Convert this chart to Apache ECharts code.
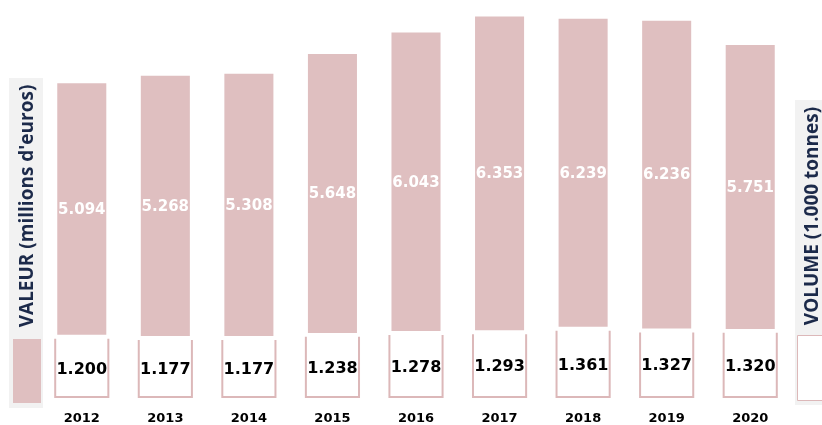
<!DOCTYPE html>
<html><head><meta charset="utf-8">
<script src="https://cdn.jsdelivr.net/npm/echarts@6/dist/echarts.min.js"></script>
<style>html,body{margin:0;padding:0;background:#fff}#c{width:822px;height:425px}</style>
</head><body><div id="c"></div>
<script>
var years = ['2012','2013','2014','2015','2016','2017','2018','2019','2020'];
var valeur = [5094, 5268, 5308, 5648, 6043, 6353, 6239, 6236, 5751];
var volume = [1200, 1177, 1177, 1238, 1278, 1293, 1361, 1327, 1320];
var valeurLabels = ['5.094','5.268','5.308','5.648','6.043','6.353','6.239','6.236','5.751'];
var volumeLabels = ['1.200','1.177','1.177','1.238','1.278','1.293','1.361','1.327','1.320'];
var gapUnits = 80;

var PINK = '#dfbfc0';
var BORDER = '#dcb8b9';

var chart = echarts.init(document.getElementById('c'), null, {renderer: 'canvas'});

function volRender(params, api) {
  var i = api.value(0);
  var v = api.value(1);
  var base = api.coord([i, 0]);
  var top = api.coord([i, v]);
  var band = api.size([1, 0])[0];
  var w = band * 0.66;
  var x0 = base[0] - w / 2, x1 = base[0] + w / 2;
  return {
    type: 'group',
    children: [
      {type: 'rect', shape: {x: x0, y: top[1], width: w, height: base[1] - top[1]}, style: {fill: '#ffffff'}},
      {type: 'polyline', shape: {points: [[x0 + 1, top[1]], [x0 + 1, base[1] - 1], [x1 - 1, base[1] - 1], [x1 - 1, top[1]]]},
        style: {stroke: BORDER, lineWidth: 2, fill: null}},
      {type: 'text', x: base[0], y: (top[1] + base[1]) / 2 + 1,
        style: {text: volumeLabels[i], fill: '#000', font: 'bold 16px "DejaVu Sans"', align: 'center', verticalAlign: 'middle'}}
    ]
  };
}

function valRender(params, api) {
  var i = api.value(0);
  var v = api.value(1);
  var vol = volume[i];
  var b = api.coord([i, vol + gapUnits]);
  var t = api.coord([i, vol + gapUnits + v]);
  var band = api.size([1, 0])[0];
  var w = band * 0.587;
  return {
    type: 'group',
    children: [
      {type: 'rect', shape: {x: b[0] - w / 2, y: t[1], width: w, height: b[1] - t[1]}, style: {fill: PINK}},
      {type: 'text', x: b[0], y: (t[1] + b[1]) / 2 + 1,
        style: {text: valeurLabels[i], fill: '#fff', font: 'bold 15px "DejaVu Sans"', align: 'center', verticalAlign: 'middle'}}
    ]
  };
}

var option = {
  animation: false,
  grid: {left: 40, right: 30, top: 3, bottom: 26},
  xAxis: {
    type: 'category', data: years,
    axisLine: {show: false}, axisTick: {show: false},
    axisLabel: {color: '#000', fontWeight: 'bold', fontSize: 13, fontFamily: 'DejaVu Sans', margin: 14}
  },
  yAxis: {type: 'value', min: 0, max: 8000, show: false, splitLine: {show: false}},
  graphic: [
    {type: 'rect', left: 9, top: 78, shape: {width: 34, height: 330}, style: {fill: '#f2f2f2'}},
    {type: 'rect', left: 13, top: 339, shape: {width: 28, height: 64}, style: {fill: PINK}},
    {type: 'text', x: 28, y: 206, rotation: Math.PI / 2,
      style: {text: "VALEUR (millions d'euros)", fill: '#1c2a4a', font: 'bold 19px "Open Sans"', align: 'center', verticalAlign: 'middle'}},
    {type: 'rect', left: 795, top: 100, shape: {width: 27, height: 305}, style: {fill: '#f2f2f2'}},
    {type: 'rect', left: 797, top: 335, shape: {width: 30, height: 65}, style: {fill: '#fff', stroke: BORDER, lineWidth: 1}},
    {type: 'text', x: 813, y: 216, rotation: Math.PI / 2,
      style: {text: 'VOLUME (1.000 tonnes)', fill: '#1c2a4a', font: 'bold 19px "Open Sans"', align: 'center', verticalAlign: 'middle'}}
  ],
  series: [
    {type: 'custom', name: 'volume', renderItem: volRender, data: volume.map(function (v, i) { return [i, v]; })},
    {type: 'custom', name: 'valeur', renderItem: valRender, data: valeur.map(function (v, i) { return [i, v]; })}
  ]
};
chart.setOption(option);
</script></body></html>
